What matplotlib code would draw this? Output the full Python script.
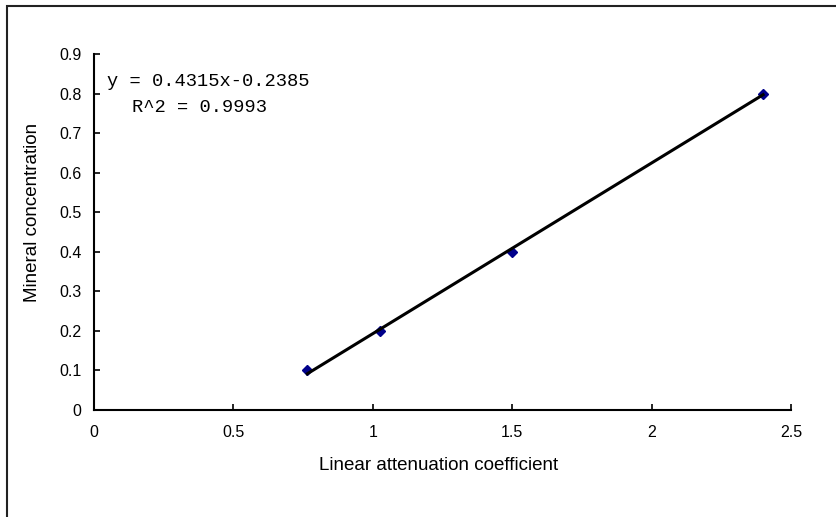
import numpy as np
import matplotlib.pyplot as plt
from matplotlib.patches import Rectangle

# Data
atten = [0.765, 1.025, 1.5, 2.4]
mineral = [0.1, 0.2, 0.4, 0.8]
slope = 0.4315
intercept = -0.2385
r2 = 0.9993

xticks = [0, 0.5, 1, 1.5, 2, 2.5]
xticklabels = ['0', '0.5', '1', '1.5', '2', '2.5']
yticks = [0, 0.1, 0.2, 0.3, 0.4, 0.5, 0.6, 0.7, 0.8, 0.9]
yticklabels = ['0', '0.1', '0.2', '0.3', '0.4', '0.5', '0.6', '0.7', '0.8', '0.9']

plt.rcParams['font.family'] = ['Liberation Sans', 'DejaVu Sans']

fig = plt.figure(figsize=(8.37, 5.17), dpi=100)
ax = fig.add_axes([94 / 837, 1 - 410 / 517, (791 - 94) / 837, (410 - 54) / 517])

# outer chart border (only left and top visible in the reference)
fig.patches.append(Rectangle((7 / 837, -0.5), 2.0, 1.5 - 6 / 517,
                             transform=fig.transFigure, fill=False,
                             edgecolor='#222222', linewidth=1.5, clip_on=False))

# trendline
xfit = np.array([min(atten), max(atten)])
ax.plot(xfit, slope * xfit + intercept, color='black', linewidth=2.2, zorder=3)
ax.plot(atten, mineral, linestyle='none', marker='D', markersize=5.5,
        color='#00008B', zorder=2, clip_on=False)

ax.set_xlim(0, 2.5)
ax.set_ylim(0, 0.9)
ax.set_xticks(xticks)
ax.set_xticklabels(xticklabels)
ax.set_yticks(yticks)
ax.set_yticklabels(yticklabels)
ax.tick_params(direction='in', length=4, width=1.2, labelsize=11.5)
ax.tick_params(axis='x', pad=11)
ax.tick_params(axis='y', pad=9)

for s in ['top', 'right']:
    ax.spines[s].set_visible(False)
for s in ['left', 'bottom']:
    ax.spines[s].set_linewidth(1.5)

ax.set_xlabel('Linear attenuation coefficient', fontsize=13.5, va='center')
ax.xaxis.set_label_coords((439 - 94) / 697, (410 - 466) / 356)
ax.set_ylabel('Mineral concentration', fontsize=13.5, va='center')
ax.yaxis.set_label_coords((33 - 94) / 697, (410 - 212) / 356)

ax.text(107 / 837, 1 - 82 / 517, f'y = {slope}x{intercept}',
        transform=fig.transFigure, family='Liberation Mono', fontsize=13.5,
        va='center', ha='left')
ax.text(132 / 837, 1 - 108 / 517, f'R^2 = {r2}',
        transform=fig.transFigure, family='Liberation Mono', fontsize=13.5,
        va='center', ha='left')

fig.savefig('out.png', dpi=100)
